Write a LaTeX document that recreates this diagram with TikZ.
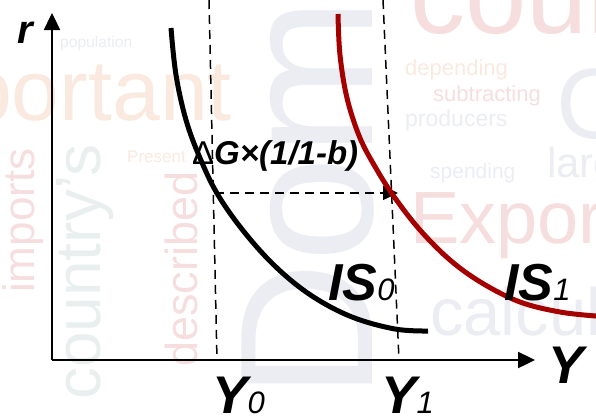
\documentclass[tikz,border=0pt]{standalone}
\usepackage{fontspec}
\setmainfont{Liberation Sans}
\usetikzlibrary{arrows.meta}
\definecolor{curvered}{RGB}{165,0,0}
\definecolor{bgred}{RGB}{246,222,222}
\definecolor{bgorange}{RGB}{250,233,223}
\definecolor{bggray}{RGB}{235,237,242}
\definecolor{bgteal}{RGB}{233,239,239}
\newcommand{\fsz}[1]{\fontsize{#1}{#1}\selectfont}
\begin{document}
\begin{tikzpicture}[x=1pt,y=-1pt,
  axis/.style={line width=2.4pt,-{Triangle[length=17pt,width=16pt]}},
  guide/.style={line width=1.5pt,dash pattern=on 9pt off 6pt},
  curve/.style={line width=5pt},
  lbl/.style={inner sep=0pt,text=black},
  bgword/.style={inner sep=0pt}]
\useasboundingbox (0,0) rectangle (596,418);
\begin{scope}
\clip (0,0) rectangle (596,418);
\node[bgword,text=bggray,rotate=90,anchor=base west,font=\fsz{190}] (bgA) at (372,400) {Domestic};
\node[bgword,text=bgorange,anchor=base east,font=\fsz{86}] (bgB) at (232,120) {important};
\node[bgword,text=bgred,anchor=base west,font=\fsz{110}] (bgC) at (410,33) {country};
\node[bgword,text=bgred,anchor=base west,font=\fsz{74}] (bgD) at (410,243) {Exports};
\node[bgword,text=bggray,anchor=base west,font=\fsz{67}] (bgE) at (430,335) {calculated};
\node[bgword,text=bgteal,rotate=90,anchor=base west,font=\fsz{64}] (bgF) at (100,400) {country's};
\node[bgword,text=bgred,rotate=90,anchor=base west,font=\fsz{44}] (bgG) at (34,293) {imports};
\node[bgword,text=bgred,rotate=90,anchor=base west,font=\fsz{45}] (bgH) at (197,367) {described};
\node[bgword,text=bgorange,anchor=base west,font=\fsz{22}] (bgI) at (405,75) {depending};
\node[bgword,text=bgred,anchor=base west,font=\fsz{22}] (bgJ) at (433,101) {subtracting};
\node[bgword,text=bggray,anchor=base west,font=\fsz{23}] (bgK) at (405,126) {producers};
\node[bgword,text=bggray,anchor=base west,font=\fsz{21}] (bgL) at (430,178) {spending};
\node[bgword,text=bggray,anchor=base west,font=\fsz{42}] (bgM) at (547,177) {large};
\node[bgword,text=bggray,anchor=base west,font=\fsz{100}] (bgN) at (556,138) {G};
\node[bgword,text=bggray,anchor=base west,font=\fsz{15.6}] (bgO) at (60,47) {population};
\node[bgword,text=bgorange,anchor=base west,font=\fsz{17}] (bgP) at (127,162) {Present};
\end{scope}
% coordinates
\coordinate (O) at (52,360);
\coordinate (ytop) at (52,13);
\coordinate (xend) at (535,360);
\coordinate (g0t) at (209,0);
\coordinate (g0b) at (217,360);
\coordinate (g1t) at (383,0);
\coordinate (g1b) at (399,360);
\coordinate (hs) at (215,193);
\coordinate (he) at (398,193);
% guides
\draw[guide] (g0t) -- (g0b);
\draw[guide] (g1t) -- (g1b);
\draw[guide,-{Triangle[length=15pt,width=14pt]}] (hs) -- (he);
% curves
\draw[curve] plot[smooth,tension=0.6] coordinates {(171,28) (176,75) (186,120) (200,158) (218,195) (245,233) (277,268) (312,296) (352,317) (395,329) (428,331)};
\draw[curve,curvered] plot[smooth,tension=0.6] coordinates {(338,14) (340,55) (347,98) (360,138) (377,170) (395,198) (420,230) (450,260) (482,283) (520,302) (560,312) (596,316)};
% axes
\draw[axis] (O) -- (ytop);
\draw[axis] (O) -- (xend);
% labels
\node[lbl,anchor=base,font=\fsz{40}\bfseries\itshape] (r) at (25,43) {r};
\node[lbl,anchor=base,font=\fsz{53}\bfseries\itshape] (Y) at (566,383) {Y};
\node[lbl,anchor=base west,font=\fsz{53}\bfseries\itshape] (Y0) at (212,413) {Y{\fsz{31}\mdseries 0}};
\node[lbl,anchor=base west,font=\fsz{53}\bfseries\itshape] (Y1) at (381,413) {Y{\fsz{31}\mdseries 1}};
\node[lbl,anchor=base west,font=\fsz{52}\bfseries\itshape] (IS0) at (328,300) {IS{\fsz{31}\mdseries 0}};
\node[lbl,anchor=base west,font=\fsz{52}\bfseries\itshape] (IS1) at (504,300) {IS{\fsz{31}\mdseries 1}};
\node[lbl,anchor=base west,font=\fsz{33}\bfseries\itshape] (dG) at (192,164) {{\mdseries\upshape Δ}G×(1/1-b)};
\end{tikzpicture}
\end{document}
